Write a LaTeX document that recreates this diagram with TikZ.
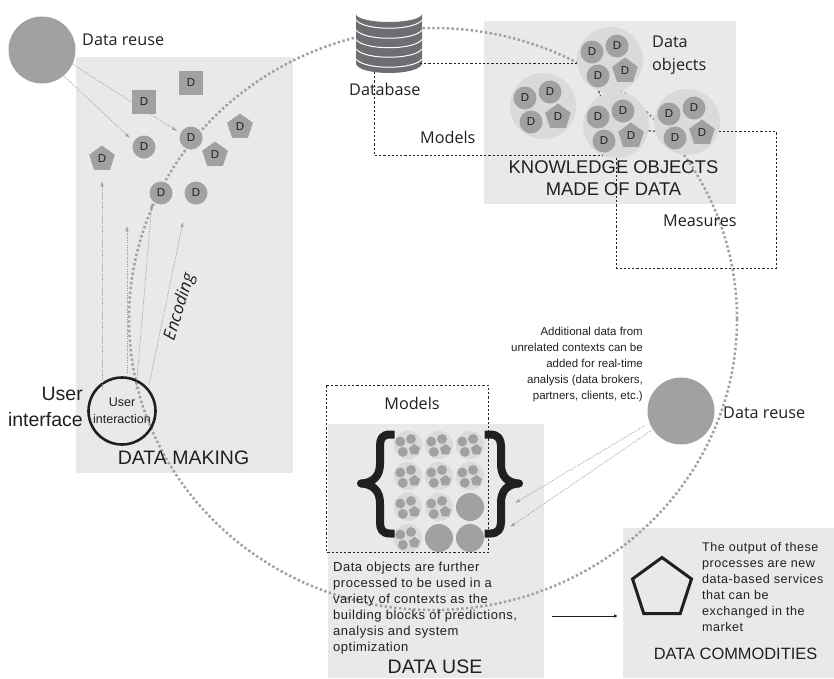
\documentclass[tikz,border=0pt]{standalone}
\usepackage{fontspec}
\setmainfont{Liberation Sans}
\newfontfamily\myr{Open Sans}
\newfontfamily\trk[LetterSpace=4]{Liberation Sans}
\usetikzlibrary{arrows.meta,shapes.geometric,calc}
\definecolor{panel}{HTML}{E8E9EB}
\definecolor{ink}{HTML}{231F20}
\definecolor{dgrey}{HTML}{A0A1A3}
\definecolor{lgrey}{HTML}{D9DADB}
\definecolor{dbgrey}{HTML}{6D6E71}
\newcommand\fs[1]{\fontsize{#1}{#1}\selectfont}
\newcommand\fsl[2]{\fontsize{#1}{#2}\selectfont}
\tikzset{
  panelbox/.style={fill=panel,draw=none},
  bigring/.style={draw=dgrey,line width=2.5pt,dash pattern=on 2.4pt off 2.4pt},
  linkdash/.style={draw=ink,line width=1pt,dash pattern=on 2.2pt off 2pt},
  feed/.style={draw=dgrey,line width=.7pt,dash pattern=on 1.2pt off 1.2pt,-{Latex[length=5pt,width=3.5pt]}},
  dcirc/.style={circle,fill=dgrey,draw=none,minimum size=23pt,inner sep=0pt,text=ink,font=\fs{11.5}},
  dsq/.style={rectangle,fill=dgrey,draw=none,minimum size=24pt,inner sep=0pt,text=ink,font=\fs{11.5}},
  dpent/.style={regular polygon,regular polygon sides=5,fill=dgrey,draw=none,minimum size=27pt,inner sep=0pt,text=ink,font=\fs{11.5}},
  halo/.style={circle,fill=lgrey,draw=none,minimum size=66pt,inner sep=0pt},
  solidball/.style={circle,fill=dgrey,draw=none,minimum size=28pt,inner sep=0pt},
  reuse/.style={circle,fill=dgrey,draw=none,minimum size=67pt,inner sep=0pt},
  lab/.style={inner sep=0pt,text=ink,font=\myr\fs{16.2}},
  capt/.style={inner sep=0pt,text=ink,align=center},
  body/.style={inner sep=0pt,text=ink,align=left},
  bracepath/.style={draw=ink,line width=8pt,line cap=butt,line join=round},
}
\newcommand\objs[5]{% name,x,y,scale,letter
  \begin{scope}[shift={(#2,#3)},scale=#4,transform shape]
    \node[halo] (#1) at (0,0) {};
    \node[dcirc] (#1a) at (-18,-8) {#5};
    \node[dcirc] (#1b) at (7,-14) {#5};
    \node[dcirc] (#1c) at (-12,16) {#5};
    \node[dpent] (#1d) at (15,11) {#5};
  \end{scope}}
\begin{document}
\begin{tikzpicture}[x=1pt,y=-1pt]
\useasboundingbox (0,0) rectangle (834,678);
% panels
\fill[panelbox] (76,57) rectangle (293,473);
\fill[panelbox] (484,21) rectangle (736,204);
\fill[panelbox] (328,424) rectangle (544,678);
\fill[panelbox] (623,528) rectangle (834,678);
% big ring
\draw[bigring] (433,319) ellipse [x radius=304,y radius=291];
% database
\node[minimum width=66pt,minimum height=66pt,inner sep=0pt] (db) at (389,39) {};
\fill[dbgrey] (356,14) arc[start angle=180,end angle=0,x radius=33,y radius=8] -- (422,64)
  .. controls (418,76) and (360,76) .. (356,64) -- cycle;
\foreach \yy in {20,30,39.5,49,59}
  \draw[white,line width=1pt] (356,\yy) .. controls (364,\yy+11) and (414,\yy+11) .. (422,\yy);
\coordinate (dbA) at (374,72);
\coordinate (dbB) at (420,63);
% data making objects
\node[reuse] (ra) at (42,50) {};
\node[dsq] (s1) at (191,83) {D};
\node[dsq] (s2) at (144,102) {D};
\node[dcirc] (d1) at (191,138) {D};
\node[dcirc] (d2) at (144,147) {D};
\node[dcirc] (d3) at (161,193) {D};
\node[dcirc] (d4) at (196,193) {D};
\node[dpent] (p1) at (240,127) {D};
\node[dpent] (p2) at (215,155) {D};
\node[dpent] (p3) at (102,159) {D};
\node[circle,draw=ink,line width=2.6pt,minimum size=67pt,inner sep=0pt,align=center,font=\fsl{12.5}{17},text=ink] (ui) at (122,411) {User\\interaction};
% feed arrows
\coordinate (e1) at (177,131);
\coordinate (e2) at (130,138);
\draw[feed] (ra.-25) -- (e1);
\draw[feed] (ra.-50) -- (e2);
\node[dsq] (s2top) at (s2) {D};
\coordinate (u1) at (102,390); \coordinate (u1e) at (102,181);
\coordinate (u2) at (127,373); \coordinate (u2e) at (127,226);
\coordinate (u3) at (136,390); \coordinate (u3e) at (152,203);
\coordinate (u4) at (149,385); \coordinate (u4e) at (183,222);
\draw[feed] (u1) -- (u1e);
\draw[feed] (u2) -- (u2e);
\draw[feed] (u3) -- (u3e);
\draw[feed] (u4) -- (u4e);
% knowledge objects
\objs{c1}{610}{60}{1}{D}
\objs{c2}{543}{106}{1}{D}
\objs{c3}{616}{125}{1}{D}
\objs{c4}{687}{122}{1}{D}
\coordinate (mcorner) at (776,268);
\draw[linkdash] (dbB) -- (dbB -| c1.west);
\draw[linkdash] (dbA) |- (c3.245);
\draw[linkdash] (c3.south) |- (mcorner) |- (c4.-16);
\draw[linkdash] (c3.-10) -- (c4.196);
\draw[linkdash] (c1.250) -- (c3.118);
% models box & braces
\node[draw=none,inner sep=0pt,minimum width=161pt,minimum height=167pt] (mbox) at (407.5,469) {};
\draw[linkdash] (mbox.north west) rectangle (mbox.south east);
\foreach \row/\yy in {1/445,2/476,3/507,4/538}{
  \foreach \col/\xx in {1/408,2/439,3/470}{
    \pgfmathtruncatemacro\k{10*\row+\col}
    \ifnum\k=33 \node[solidball] (b\k) at (\xx,\yy) {};
    \else\ifnum\k=42 \node[solidball] (b\k) at (\xx,\yy) {};
    \else\ifnum\k=43 \node[solidball] (b\k) at (\xx,\yy) {};
    \else \objs{b\k}{\xx}{\yy}{.43}{}
    \fi\fi\fi
  }}
\draw[bracepath] (394.5,434.5) -- (390,434.5) .. controls (382,434.5) and (380,439) .. (380,446) -- (380,464)
  .. controls (380,476) and (373,483) .. (361,483.5)
  .. controls (373,484) and (380,491) .. (380,503) -- (380,522)
  .. controls (380,529) and (382,533.5) .. (390,533.5) -- (394.5,533.5);
\draw[bracepath] (484.5,434.5) -- (490,434.5) .. controls (498,434.5) and (501,439) .. (501,446) -- (501,464)
  .. controls (501,476) and (507,483) .. (519,483.5)
  .. controls (507,484) and (501,491) .. (501,503) -- (501,522)
  .. controls (501,529) and (498,533.5) .. (490,533.5) -- (484.5,533.5);
% reuse 2
\node[reuse] (rb) at (681,411) {};
\coordinate (g1) at (644,426);
\coordinate (g2) at (652,430);
\coordinate (f1) at (515,503);
\coordinate (f2) at (510,527);
\draw[feed] (g1) -- (f1);
\draw[feed] (g2) -- (f2);
% commodity
\node[regular polygon,regular polygon sides=5,draw=ink,line width=3pt,minimum size=62pt,inner sep=0pt] (pent) at (662,588.5) {};
\node[inner sep=0pt] (useout) at (551,616) {};
\draw[draw=ink,line width=.8pt,-{Latex[length=4pt,width=3.5pt]}] (useout) -- (618,616);
% labels
\node[lab,anchor=west] (t1) at (82,40) {Data reuse};
\node[lab,anchor=west] (t2) at (349,89) {Database};
\node[lab,anchor=west] (t3) at (420,137) {Models};
\node[lab,anchor=north west,align=left,font=\myr\fsl{16.2}{23}] (t4) at (652,36) {Data\\objects};
\node[capt,font=\fsl{18.4}{22}] (t5) at (613.5,178) {KNOWLEDGE OBJECTS\\MADE OF DATA};
\node[lab,anchor=west] (t6) at (663,221) {Measures};
\node[lab,anchor=west] (t7) at (723,413) {Data reuse};
\node[lab,anchor=center] (t8) at (412,403) {Models};
\node[lab,rotate=73,font=\myr\itshape\fs{17}] (t9) at (180,307) {Encoding};
\node[capt,anchor=east,align=right,font=\fsl{19.5}{26}] (t10) at (83,407) {User\\interface};
\node[capt,font=\fs{19.5}] (t11) at (183.5,458) {DATA MAKING};
\node[body,anchor=north east,align=right,font=\fsl{11.5}{16}] (t12) at (643,327) {Additional data from\\unrelated contexts can be\\added for real-time\\analysis (data brokers,\\partners, clients, etc.)};
\node[body,anchor=north west,font=\trk\fsl{13}{16}] (t13) at (333,562) {Data objects are further\\processed to be used in a\\variety of contexts as the\\building blocks of predictions,\\analysis and system\\optimization};
\node[capt,font=\fs{19.5}] (t14) at (435,667) {DATA USE};
\node[body,anchor=north west,font=\trk\fsl{12.6}{16}] (t15) at (702,542) {The output of these\\processes are new\\data-based services\\that can be\\exchanged in the\\market};
\node[capt,font=\fs{16.4}] (t16) at (735.5,654) {DATA COMMODITIES};
\end{tikzpicture}
\end{document}
